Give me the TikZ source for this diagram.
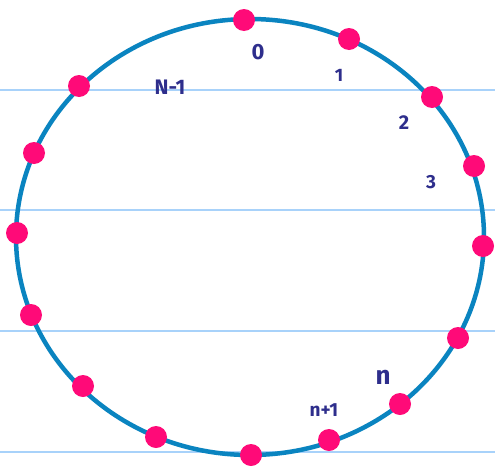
\documentclass[tikz,border=0pt]{standalone}
\usepackage{fontspec}
\setmainfont{Fira Sans}
\definecolor{ringblue}{HTML}{0A84C0}
\definecolor{dotpink}{HTML}{FF0A78}
\definecolor{rulecol}{HTML}{A8D2FA}
\definecolor{inkcol}{HTML}{2E2E8C}
\begin{document}
\begin{tikzpicture}[x=1pt,y=-1pt,
  dotnode/.style={circle,fill=dotpink,draw=none,minimum size=22pt,inner sep=0pt},
  lbl/.style={text=inkcol,inner sep=0pt},
  rulel/.style={draw=rulecol,line width=1.3pt},
  ring/.style={draw=ringblue,line width=4.5pt}]
\useasboundingbox (0,0) rectangle (495,466);
\fill[white] (0,0) rectangle (495,466);
\foreach \yy in {90,210,331,452} \draw[rulel] (0,\yy) -- (495,\yy);
\draw[ring] (250,237) ellipse [x radius=234, y radius=218];
\node[dotnode] (d0) at (244,20) {};
\node[dotnode] (d1) at (349,39) {};
\node[dotnode] (d2) at (432,97) {};
\node[dotnode] (d3) at (474,166) {};
\node[dotnode] (d4) at (483,246) {};
\node[dotnode] (d5) at (458,338) {};
\node[dotnode] (d6) at (400,404) {};
\node[dotnode] (d7) at (329,440) {};
\node[dotnode] (d8) at (251,455) {};
\node[dotnode] (d9) at (156,437) {};
\node[dotnode] (d10) at (83,386) {};
\node[dotnode] (d11) at (31,315) {};
\node[dotnode] (d12) at (17,233) {};
\node[dotnode] (d13) at (34,153) {};
\node[dotnode] (d14) at (79,86) {};
\node[lbl,font=\fontsize{22}{22}\selectfont\bfseries] (l0) at (258,52) {0};
\node[lbl,font=\fontsize{18}{18}\selectfont\bfseries] (l1) at (339,75) {1};
\node[lbl,font=\fontsize{20}{20}\selectfont\bfseries] (l2) at (404,123) {2};
\node[lbl,font=\fontsize{19}{19}\selectfont\bfseries] (l3) at (431,182) {3};
\node[lbl,font=\fontsize{21}{21}\selectfont\bfseries] (lN) at (170,87) {N-1};
\node[lbl,font=\fontsize{26}{26}\selectfont\bfseries] (ln) at (383,377) {n};
\node[lbl,font=\fontsize{19}{19}\selectfont\bfseries] (ln1) at (324,410) {n+1};
\end{tikzpicture}
\end{document}
